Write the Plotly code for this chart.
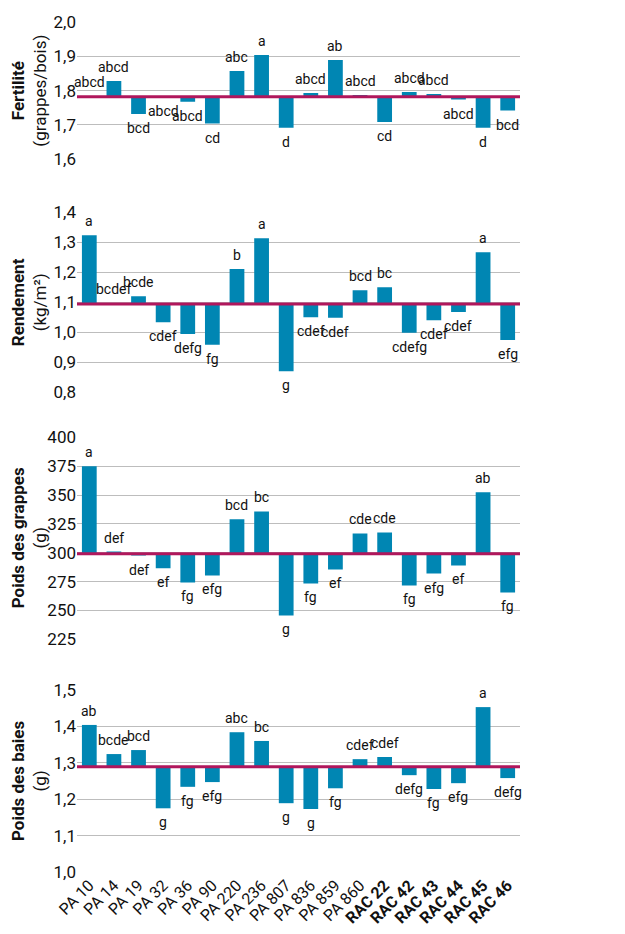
import plotly.graph_objects as go

categories = ["PA 10", "PA 14", "PA 19", "PA 32", "PA 36", "PA 90", "PA 220", "PA 236",
              "PA 807", "PA 836", "PA 859", "PA 860", "RAC 22", "RAC 42", "RAC 43",
              "RAC 44", "RAC 45", "RAC 46"]
tick_labels = ["PA 10", "PA 14", "PA 19", "PA 32", "PA 36", "PA 90", "PA 220", "PA 236",
               "PA 807", "PA 836", "PA 859", "PA 860", "<b>RAC 22</b>", "<b>RAC 42</b>",
               "<b>RAC 43</b>", "<b>RAC 44</b>", "<b>RAC 45</b>", "<b>RAC 46</b>"]

fertilite = [1.783, 1.828, 1.732, 1.781, 1.768, 1.704, 1.857, 1.904, 1.692, 1.793,
             1.889, 1.787, 1.709, 1.796, 1.790, 1.774, 1.692, 1.742]
fertilite_mean = 1.782
fertilite_letters = ["abcd", "abcd", "bcd", "abcd", "abcd", "cd", "abc", "a", "d", "abcd",
                     "ab", "abcd", "cd", "abcd", "abcd", "abcd", "d", "bcd"]

rendement = [1.323, 1.097, 1.120, 1.033, 0.994, 0.958, 1.210, 1.313, 0.870, 1.050,
             1.048, 1.140, 1.150, 0.998, 1.040, 1.067, 1.266, 0.974]
rendement_mean = 1.094
rendement_letters = ["a", "bcdef", "bcde", "cdef", "defg", "fg", "b", "a", "g", "cdef",
                     "cdef", "bcd", "bc", "cdefg", "cdef", "cdef", "a", "efg"]

poids_grappes = [375.0, 301.0, 297.5, 286.5, 274.3, 280.3, 328.9, 335.8, 245.7, 273.4,
                 285.5, 316.7, 317.6, 271.7, 282.0, 289.0, 352.3, 265.6]
poids_grappes_mean = 299.2
poids_grappes_letters = ["a", "def", "def", "ef", "fg", "efg", "bcd", "bc", "g", "fg",
                         "ef", "cde", "cde", "fg", "efg", "ef", "ab", "fg"]

poids_baies = [1.404, 1.324, 1.335, 1.175, 1.234, 1.247, 1.384, 1.360, 1.189, 1.173,
               1.230, 1.310, 1.316, 1.266, 1.228, 1.244, 1.453, 1.258]
poids_baies_mean = 1.289
poids_baies_letters = ["ab", "bcde", "bcd", "g", "fg", "efg", "abc", "bc", "g", "g",
                       "fg", "cdef", "cdef", "defg", "fg", "efg", "a", "defg"]

panels = [
    dict(values=fertilite, mean=fertilite_mean, letters=fertilite_letters,
         title="<b>Fertilité</b><br>(grappes/bois)", rng=[1.6, 2.0], dtick=0.1,
         px=(22, 159.3)),
    dict(values=rendement, mean=rendement_mean, letters=rendement_letters,
         title="<b>Rendement</b><br>(kg/m²)", rng=[0.8, 1.4], dtick=0.1,
         px=(212, 392.3)),
    dict(values=poids_grappes, mean=poids_grappes_mean, letters=poids_grappes_letters,
         title="<b>Poids des grappes</b><br>(g)", rng=[225, 400], dtick=25,
         px=(437.3, 639.3)),
    dict(values=poids_baies, mean=poids_baies_mean, letters=poids_baies_letters,
         title="<b>Poids des baies</b><br>(g)", rng=[1.0, 1.5], dtick=0.1,
         px=(690, 872)),
]

W, H = 625, 934
OFF = 8  # page body margin
BAR = "#0086b3"
BASE = "#b0175c"
GRID = "#bdbdbd"
FONT = "Roboto, Noto Sans, sans-serif"

fig = go.Figure()
x_dom = [(77 - OFF) / W, (520 - OFF) / W]
annotations = []
shapes = []

for i, p in enumerate(panels):
    n = i + 1
    xa = "x" if n == 1 else f"x{n}"
    ya = "y" if n == 1 else f"y{n}"
    diffs = [v - p["mean"] for v in p["values"]]
    fig.add_trace(go.Bar(x=categories, y=diffs, base=p["mean"], marker_color=BAR,
                         marker_line_width=0, xaxis=xa, yaxis=ya, showlegend=False,
                         hoverinfo="skip"))
    shapes.append(dict(type="line", xref=f"{xa} domain", yref=ya, x0=0, x1=1,
                       y0=p["mean"], y1=p["mean"], layer="above",
                       line=dict(color=BASE, width=3)))
    for c, v, lab in zip(categories, p["values"], p["letters"]):
        up = v >= p["mean"]
        annotations.append(dict(x=c, y=v, xref=xa, yref=ya, text=lab, showarrow=False,
                                yshift=14 if up else -14, yanchor="middle",
                                font=dict(family=FONT, size=14, color="#111")))
    y0, y1 = p["px"]
    dom = [1 - (y1 - OFF) / H, 1 - (y0 - OFF) / H]
    fig.layout[("xaxis" if n == 1 else f"xaxis{n}")] = dict(
        domain=x_dom, showgrid=False, zeroline=False, showline=False, ticks="",
        fixedrange=True, automargin=False,
        type="category", categoryorder="array", categoryarray=categories,
        anchor=ya, range=[-0.5, len(categories) - 0.5],
        tickvals=categories, ticktext=tick_labels, tickangle=-45,
        showticklabels=(n == 4),
        tickfont=dict(family=FONT, size=16, color="#111"))
    fig.layout[("yaxis" if n == 1 else f"yaxis{n}")] = dict(
        domain=dom, range=p["rng"], dtick=p["dtick"], tick0=p["rng"][0],
        showgrid=True, gridcolor=GRID, gridwidth=1.2, zeroline=False, showline=False,
        ticks="", anchor=xa, fixedrange=True, automargin=False,
        tickfont=dict(family=FONT, size=17, color="#111"),
        tickformat=".1f" if p["dtick"] < 1 else "d")
    annotations.append(dict(x=(29 - OFF) / W, y=1 - ((y0 + y1) / 2 - OFF) / H,
                            xref="paper", yref="paper",
                            text=p["title"], textangle=-90, showarrow=False,
                            xanchor="center", yanchor="middle",
                            font=dict(family=FONT, size=17, color="#111")))

fig.update_layout(width=W, height=H, margin=dict(l=0, r=0, t=0, b=0),
                  paper_bgcolor="white", plot_bgcolor="white", bargap=0.4,
                  separators=", ", annotations=annotations, shapes=shapes,
                  font=dict(family=FONT, color="#111"))

fig.write_html("out.html")
